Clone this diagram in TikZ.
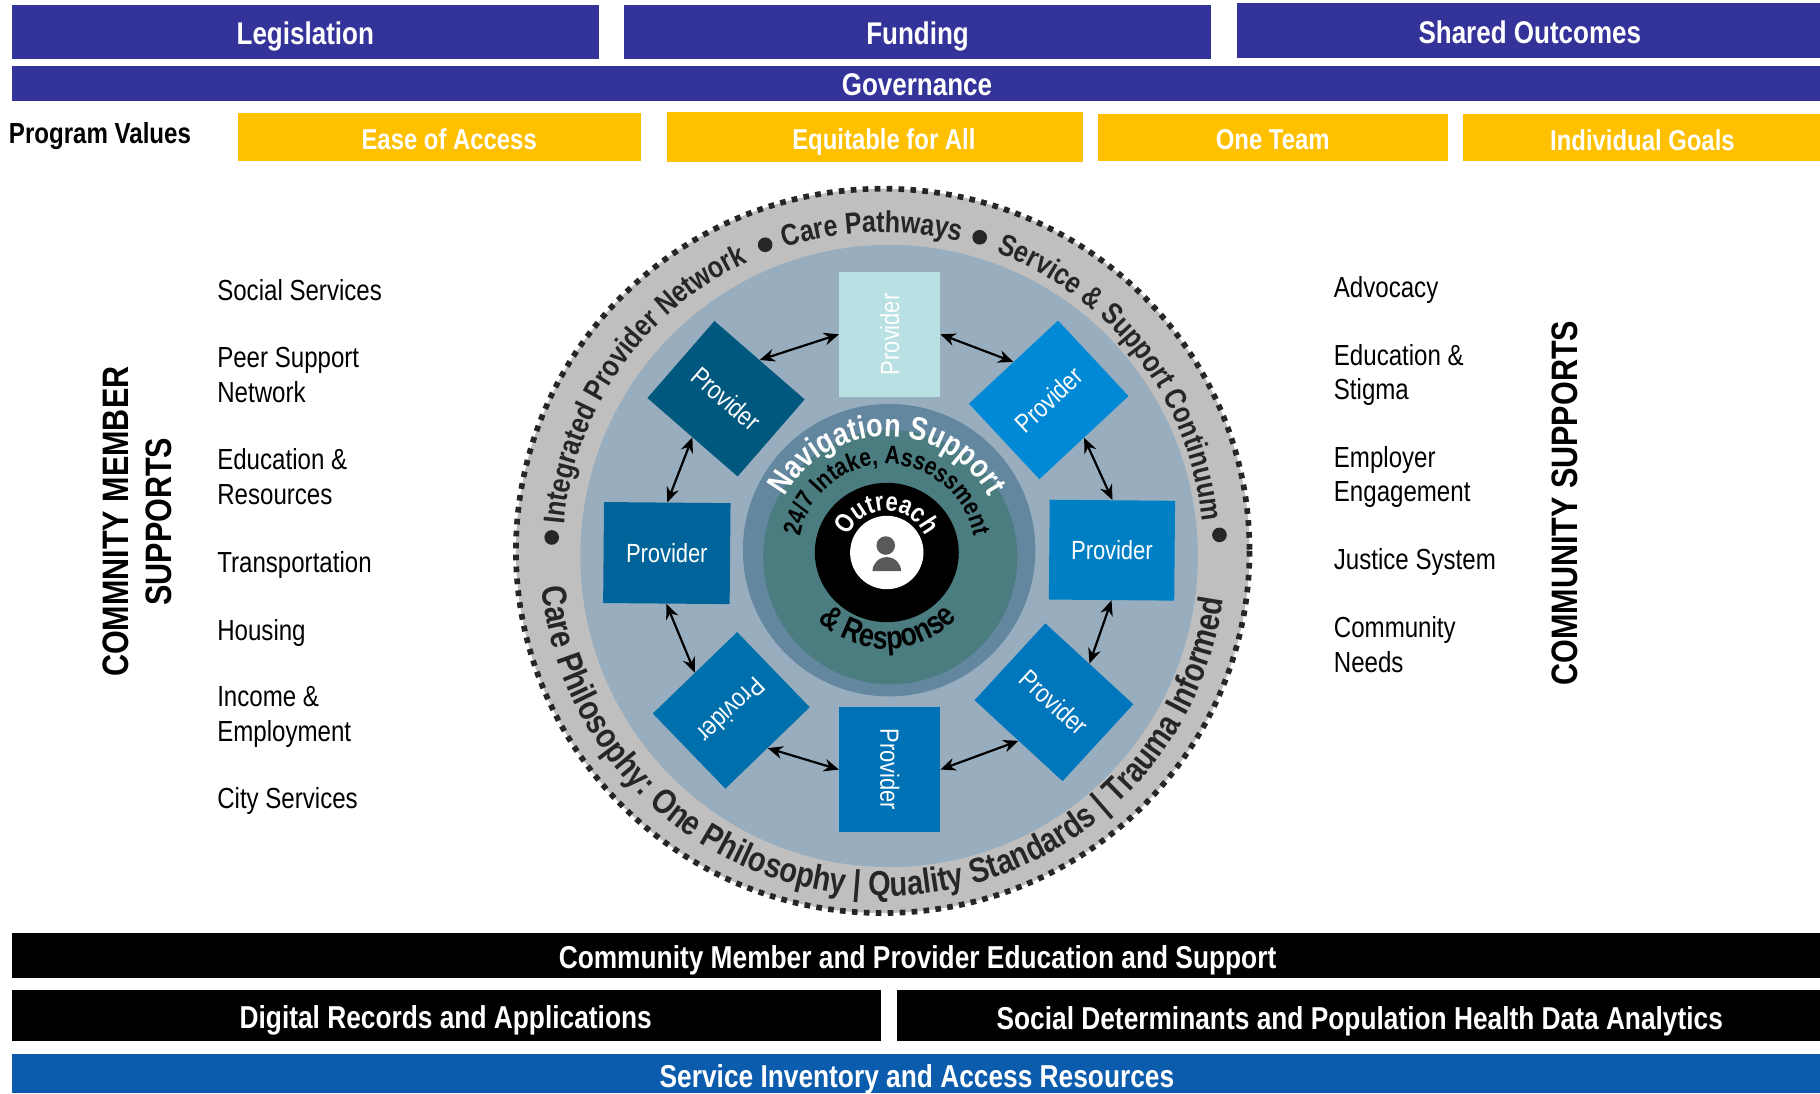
\documentclass[tikz,border=0pt]{standalone}
\usepackage{fontspec}
\setmainfont[FakeStretch=0.83]{Liberation Sans}
\usetikzlibrary{arrows.meta,decorations.text}
\definecolor{navybar}{HTML}{333399}
\definecolor{goldbar}{HTML}{FFC000}
\definecolor{bluebar}{HTML}{0B5CAD}
\definecolor{ringgrey}{HTML}{BFBFBF}
\definecolor{discblue}{HTML}{98AEBF}
\definecolor{innerring}{HTML}{6487A0}
\definecolor{innergreen}{HTML}{4A7C80}
\definecolor{ringtext}{HTML}{262626}
\definecolor{iconG}{HTML}{595959}
\definecolor{pT}{HTML}{B9E0E3}
\definecolor{pUR}{HTML}{0289D6}
\definecolor{pR}{HTML}{0080C4}
\definecolor{pLR}{HTML}{0076BD}
\definecolor{pB}{HTML}{0072B5}
\definecolor{pLL}{HTML}{0070AC}
\definecolor{pL}{HTML}{00649A}
\definecolor{pUL}{HTML}{00587F}
\newcommand{\fRing}{\fontsize{26}{26}\selectfont\bfseries\color{ringtext}}
\newcommand{\fRingB}{\fontsize{30}{30}\selectfont\bfseries\color{ringtext}}
\newcommand{\fNav}{\fontsize{28}{28}\selectfont\bfseries\color{white}}
\newcommand{\fIntake}{\fontsize{22}{22}\selectfont\bfseries\color{black}}
\newcommand{\fOut}{\fontsize{23}{23}\selectfont\bfseries\color{white}}
\newcommand{\fResp}{\fontsize{28}{28}\selectfont\bfseries\color{black}}
\newcommand{\arctxt}[5]{\path[decorate,decoration={text along path,text format delimiters={[}{]},text={[#4]#5},text align=center}] (#1:#3) arc[start angle=#1,end angle=#2,radius=#3];}
\tikzset{
  x=1pt,y=-1pt,
  barbox/.style={draw=none,inner sep=0pt,text=white,font=\fontsize{27}{27}\selectfont\bfseries},
  lowbox/.style={barbox,font=\fontsize{27.3}{27.3}\selectfont\bfseries},
  goldbox/.style={barbox,font=\fontsize{24.8}{24.8}\selectfont\bfseries},
  sidetext/.style={anchor=west,align=left,inner sep=0pt,text=black,font=\fontsize{25}{30}\selectfont},
  vertical/.style={rotate=90,align=center,inner sep=0pt,text=black,font=\fontsize{31.7}{37}\selectfont\bfseries},
  provider/.style={draw=none,inner sep=0pt,text=white,font=\fontsize{22.7}{22.7}\selectfont},
  biarrow/.style={{Stealth[length=13pt,width=11pt]}-{Stealth[length=13pt,width=11pt]},line width=1.9pt,black},
  ringdots/.style={draw=ringtext,line width=4.9pt,dash pattern=on 4.9pt off 5.4pt},
}
\begin{document}
\begin{tikzpicture}
\useasboundingbox (0,0) rectangle (1568,941.7);
% top bars
\fill[navybar] (10,4) rectangle (516,51);
\node[barbox] (leg) at (263,31) {Legislation};
\fill[navybar] (537.5,4) rectangle (1043,51);
\node[barbox] (fun) at (790.5,31.5) {Funding};
\fill[navybar] (1065.5,3) rectangle (1568,50);
\node[barbox] (sha) at (1318,28) {Shared Outcomes};
\fill[navybar] (10,57) rectangle (1568,87);
\node[barbox] (gov) at (790,73) {Governance};
\node[anchor=west,inner sep=0pt,font=\fontsize{25}{25}\selectfont\bfseries] (pv) at (7.5,117) {Program Values};
\fill[goldbar] (205,97) rectangle (552,139);
\node[goldbox] (eas) at (387,120) {Ease of Access};
\fill[goldbar] (575,96.5) rectangle (933,140);
\node[goldbox] (equ) at (761.5,122) {Equitable for All};
\fill[goldbar] (946,98) rectangle (1247.5,139);
\node[goldbox] (one) at (1096.5,120.5) {One Team};
\fill[goldbar] (1260.5,98) rectangle (1568,139);
\node[goldbox] (ind) at (1415,121) {Individual Goals};
% bottom bars
\fill[black] (10,804) rectangle (1568,843);
\node[lowbox] (edu) at (790.5,827) {Community Member and Provider Education and Support};
\fill[black] (10,853) rectangle (759,897);
\node[lowbox] (dig) at (384,879) {Digital Records and Applications};
\fill[black] (773,853) rectangle (1568,897);
\node[lowbox] (soc) at (1171.5,880) {Social Determinants and Population Health Data Analytics};
\fill[bluebar] (10,908) rectangle (1568,941.7);
\node[lowbox] (ser) at (790,930) {Service Inventory and Access Resources};
% side lists
\node[sidetext] (l1) at (187,250) {Social Services};
\node[sidetext] (l2) at (187,323) {Peer Support\\Network};
\node[sidetext] (l3) at (187,410.5) {Education \&\\Resources};
\node[sidetext] (l4) at (187,487) {Transportation};
\node[sidetext] (l5) at (187,545) {Housing};
\node[sidetext] (l6) at (187,618) {Income \&\\Employment};
\node[sidetext] (l7) at (187,690) {City Services};
\node[sidetext] (r1) at (1149,250) {Advocacy};
\node[sidetext] (r2) at (1149,323) {Education \&\\Stigma};
\node[sidetext] (r3) at (1149,411) {Employer\\Engagement};
\node[sidetext] (r4) at (1149,484) {Justice System};
\node[sidetext] (r5) at (1149,555.5) {Community\\Needs};
\node[vertical] (vl) at (118.5,449.5) {COMMNITY MEMBER\\SUPPORTS};
\node[vertical] (vr) at (1348.5,433.5) {COMMUNITY SUPPORTS};
% wheel discs
\fill[ringgrey] (760.5,474.6) ellipse[x radius=316,y radius=312];
\draw[ringdots] (760.5,474.6) ellipse[x radius=316,y radius=312];
\fill[discblue] (766,479) ellipse[x radius=266,y radius=268];
\fill[innerring] (766,474) circle[radius=126];
\fill[innergreen] (767,480) circle[radius=109.5];
\fill[black] (764,476) ellipse[x radius=62,y radius=60];
\fill[white] (764,476) circle[radius=31.6];
% person icon
\fill[iconG] (763.1,470) circle[radius=8];
\fill[iconG] (751.7,492) arc[start angle=180,end angle=360,x radius=12.3,y radius=12] -- cycle;
% ring and inner texts
\begin{scope}[shift={(761,476)},y=1pt]
  \arctxt{181}{109}{276}{\fRing}{Integrated Provider Network}
  \arctxt{124}{60}{276}{\fRing}{Care Pathways}
  \arctxt{79}{-4}{276}{\fRing}{Service {\&} Support Continuum}
  \arctxt{170}{368}{296}{\fRingB}{Care Philosophy: One Philosophy | Quality Standards | Trauma Informed}
  \fill[ringtext] (177.4:286) circle[radius=6.3];
  \fill[ringtext] (111:284) circle[radius=6.3];
  \fill[ringtext] (73:284) circle[radius=6.3];
  \fill[ringtext] (3:290) circle[radius=6.3];
\end{scope}
\begin{scope}[shift={(764,476)},y=1pt]
  \arctxt{165}{15}{100}{\fNav}{Navigation Support}
  \arctxt{180}{0}{76}{\fIntake}{24/7 Intake{,} Assessment}
  \arctxt{170}{10}{36}{\fOut}{Outreach}
  \arctxt{205}{337}{83}{\fResp}{{\&} Response}
\end{scope}
% providers
\node[provider,fill=pT,rotate=90,minimum width=108pt,minimum height=87pt] (t) at (766.5,288) {Provider};
\node[provider,fill=pUR,rotate=43,minimum width=105pt,minimum height=89pt] (ur) at (903.5,344.5) {Provider};
\node[provider,fill=pR,minimum width=108pt,minimum height=86pt,rotate=-0.5] (r) at (958,474) {Provider};
\node[provider,fill=pLR,rotate=-42.6,minimum width=103pt,minimum height=90pt] (lr) at (908,605) {Provider};
\node[provider,fill=pB,rotate=-90,minimum width=108pt,minimum height=87pt] (b) at (766.5,663) {Provider};
\node[provider,fill=pLL,rotate=224,minimum width=101pt,minimum height=90pt] (ll) at (630,612) {Provider};
\node[provider,fill=pL,minimum width=109pt,minimum height=87pt,rotate=-0.5] (l) at (574.5,476.5) {Provider};
\node[provider,fill=pUL,rotate=-41,minimum width=103pt,minimum height=88pt] (ul) at (625.5,343.5) {Provider};
% connectors
\draw[biarrow] (ul.north) -- (t.north);
\draw[biarrow] (t.south) -- (ur.north);
\draw[biarrow] (ur.south) -- (r.north);
\draw[biarrow] (r.south) -- (lr.north);
\draw[biarrow] (lr.south) -- (b.north);
\draw[biarrow] (b.south) -- (ll.north);
\draw[biarrow] (ll.south) -- (l.south);
\draw[biarrow] (l.north) -- (ul.south);
\end{tikzpicture}
\end{document}
